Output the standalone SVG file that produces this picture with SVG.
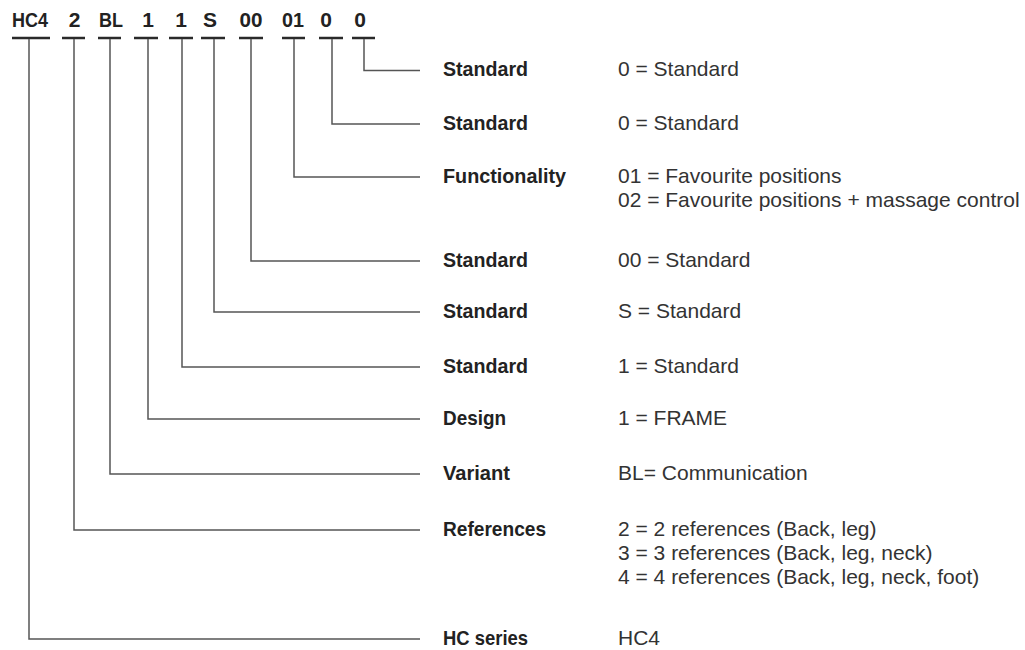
<svg xmlns="http://www.w3.org/2000/svg" width="1025" height="650" viewBox="0 0 1025 650">
  <style>
    .code { font-family: "Liberation Sans Narrow", "Liberation Sans", sans-serif; font-weight: bold; font-size: 21px; fill: #222; text-anchor: middle; }
    .lbl { font-family: "Liberation Sans Narrow", "Liberation Sans", sans-serif; font-weight: bold; font-size: 21px; fill: #222; }
    .val { font-family: "Liberation Sans Narrow", "Liberation Sans", sans-serif; font-size: 21px; fill: #333; }
    .bar { stroke: #2a2a2a; stroke-width: 2.5; fill: none; }
    .con { stroke: #555; stroke-width: 1.5; fill: none; }
  </style>
  <rect width="1025" height="650" fill="#fff"/>

  <g id="code">
    <text class="code" x="30" y="27" textLength="36" lengthAdjust="spacingAndGlyphs">HC4</text>
    <text class="code" x="74.5" y="27">2</text>
    <text class="code" x="111" y="27" textLength="24" lengthAdjust="spacingAndGlyphs">BL</text>
    <text class="code" x="148" y="27">1</text>
    <text class="code" x="181" y="27">1</text>
    <text class="code" x="210" y="27">S</text>
    <text class="code" x="251" y="27" textLength="23" lengthAdjust="spacingAndGlyphs">00</text>
    <text class="code" x="293" y="27" textLength="22" lengthAdjust="spacingAndGlyphs">01</text>
    <text class="code" x="326" y="27">0</text>
    <text class="code" x="360" y="27">0</text>
    <line class="bar" x1="12" y1="38" x2="50" y2="38"/>
    <line class="bar" x1="62" y1="38" x2="85" y2="38"/>
    <line class="bar" x1="98" y1="38" x2="121" y2="38"/>
    <line class="bar" x1="134" y1="38" x2="158" y2="38"/>
    <line class="bar" x1="169" y1="38" x2="193" y2="38"/>
    <line class="bar" x1="201" y1="38" x2="225" y2="38"/>
    <line class="bar" x1="239" y1="38" x2="263" y2="38"/>
    <line class="bar" x1="282" y1="38" x2="305" y2="38"/>
    <line class="bar" x1="319" y1="38" x2="343" y2="38"/>
    <line class="bar" x1="352" y1="38" x2="375" y2="38"/>
  </g>

  <g id="connectors">
    <path class="con" d="M364,39 V70.5 H420"/>
    <path class="con" d="M332,39 V124 H420"/>
    <path class="con" d="M294,39 V177 H420"/>
    <path class="con" d="M251,39 V261 H420"/>
    <path class="con" d="M214,39 V312 H420"/>
    <path class="con" d="M182,39 V367 H420"/>
    <path class="con" d="M148,39 V419 H420"/>
    <path class="con" d="M110,39 V474 H420"/>
    <path class="con" d="M74,39 V530 H420"/>
    <path class="con" d="M29,39 V639 H420"/>
  </g>

  <g id="row-standard-1">
    <text class="lbl" x="443" y="76" textLength="85" lengthAdjust="spacingAndGlyphs">Standard</text>
    <text class="val" x="618" y="76">0 = Standard</text>
  </g>
  <g id="row-standard-2">
    <text class="lbl" x="443" y="130" textLength="85" lengthAdjust="spacingAndGlyphs">Standard</text>
    <text class="val" x="618" y="130">0 = Standard</text>
  </g>
  <g id="row-functionality">
    <text class="lbl" x="443" y="183" textLength="123" lengthAdjust="spacingAndGlyphs">Functionality</text>
    <text class="val" x="618" y="183">01 = Favourite positions</text>
    <text class="val" x="618" y="207">02 = Favourite positions + massage control</text>
  </g>
  <g id="row-standard-3">
    <text class="lbl" x="443" y="267" textLength="85" lengthAdjust="spacingAndGlyphs">Standard</text>
    <text class="val" x="618" y="267">00 = Standard</text>
  </g>
  <g id="row-standard-4">
    <text class="lbl" x="443" y="318" textLength="85" lengthAdjust="spacingAndGlyphs">Standard</text>
    <text class="val" x="618" y="318">S = Standard</text>
  </g>
  <g id="row-standard-5">
    <text class="lbl" x="443" y="373" textLength="85" lengthAdjust="spacingAndGlyphs">Standard</text>
    <text class="val" x="618" y="373">1 = Standard</text>
  </g>
  <g id="row-design">
    <text class="lbl" x="443" y="425" textLength="63" lengthAdjust="spacingAndGlyphs">Design</text>
    <text class="val" x="618" y="425">1 = FRAME</text>
  </g>
  <g id="row-variant">
    <text class="lbl" x="443" y="480" textLength="67" lengthAdjust="spacingAndGlyphs">Variant</text>
    <text class="val" x="618" y="480">BL= Communication</text>
  </g>
  <g id="row-references">
    <text class="lbl" x="443" y="536" textLength="103" lengthAdjust="spacingAndGlyphs">References</text>
    <text class="val" x="618" y="536">2 = 2 references (Back, leg)</text>
    <text class="val" x="618" y="560">3 = 3 references (Back, leg, neck)</text>
    <text class="val" x="618" y="584">4 = 4 references (Back, leg, neck, foot)</text>
  </g>
  <g id="row-hc-series">
    <text class="lbl" x="443" y="645" textLength="85" lengthAdjust="spacingAndGlyphs">HC series</text>
    <text class="val" x="618" y="645">HC4</text>
  </g>
</svg>
